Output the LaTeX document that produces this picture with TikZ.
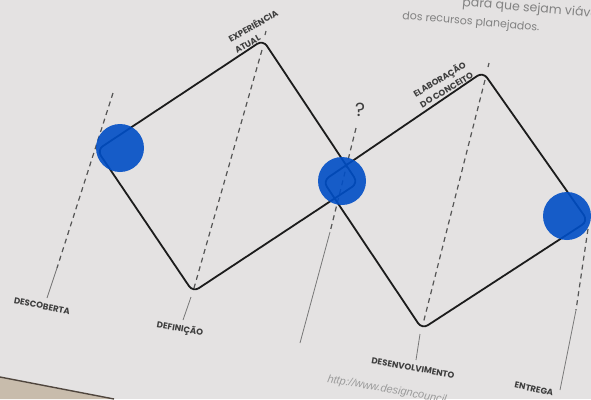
\documentclass[tikz,border=0pt]{standalone}
\usepackage{fontspec}
\newfontfamily\lab{Poppins}
\newfontfamily\urlf{Liberation Sans}
\definecolor{paper}{RGB}{228,226,226}
\definecolor{dotblue}{RGB}{0,78,198}
\definecolor{ink}{RGB}{28,28,28}
\definecolor{guide}{RGB}{85,85,85}
\definecolor{labelc}{RGB}{62,62,62}
\definecolor{bodyc}{RGB}{130,130,130}
\definecolor{curl}{RGB}{200,188,172}
\definecolor{curledge}{RGB}{80,70,62}
\begin{document}
\begin{tikzpicture}[x=1pt,y=-1pt,
  frame/.style={draw=ink, line width=1.8pt, rounded corners=7pt, line join=round},
  guidedash/.style={draw=guide, line width=1.2pt, dash pattern=on 5pt off 4pt},
  guidesolid/.style={draw=guide!80, line width=0.8pt},
  blob/.style={circle, fill=dotblue, fill opacity=0.9, minimum size=48pt, inner sep=0pt},
  lbl/.style={font=\lab\bfseries\fontsize{8.6}{12.5}\selectfont, text=labelc, inner sep=0pt},
  body/.style={font=\lab\fontsize{11}{13}\selectfont, text=bodyc, inner sep=0pt},
]
\useasboundingbox (0,0) rectangle (591,399);
\clip (0,0) rectangle (591,399);
\fill[paper] (0,0) rectangle (591,399);
% page curl
\coordinate (c1) at (0,377);
\coordinate (c2) at (114,399);
\fill[curl] (c1) -- (c2) -- (0,399) -- cycle;
\draw[curledge, line width=1.4pt] (c1) -- (c2);

% diamond corners
\coordinate (L1) at (97,150);
\coordinate (T1) at (263,40);
\coordinate (R1) at (358,183);
\coordinate (B1) at (193,292);
\coordinate (L2) at (323,181);
\coordinate (T2) at (483,72);
\coordinate (R2) at (588,221);
\coordinate (B2) at (422,329);

% guide line points
\coordinate (g1a) at (113,93);
\coordinate (g1b) at (57,268);
\coordinate (g1c) at (47,298);
\coordinate (g2a) at (262,50);
\coordinate (g2b) at (194,288);
\coordinate (g2c) at (191,297);
\coordinate (g2d) at (183,320);
\coordinate (g2t1) at (266,31);
\coordinate (g2t2) at (265,35);
\coordinate (g3a) at (356,128);
\coordinate (g3b) at (330,232);
\coordinate (g3c) at (300,343);
\coordinate (g4a) at (485,80);
\coordinate (g4b) at (423,324);
\coordinate (g4c) at (420,334);
\coordinate (g4d) at (416,360);
\coordinate (g4t1) at (489,63);
\coordinate (g4t2) at (488,67);
\coordinate (g5a) at (588,229);
\coordinate (g5b) at (576,310);
\coordinate (g5c) at (560,390);

% guides
\draw[guidedash] (g1a) -- (g1b);
\draw[guidesolid] (g1b) -- (g1c);
\draw[guidedash] (g2a) -- (g2b);
\draw[guidesolid] (g2c) -- (g2d);
\draw[guidedash] (g2t1) -- (g2t2);
\draw[guidedash] (g3a) -- (g3b);
\draw[guidesolid] (g3b) -- (g3c);
\draw[guidedash] (g4a) -- (g4b);
\draw[guidesolid] (g4c) -- (g4d);
\draw[guidedash] (g4t1) -- (g4t2);
\draw[guidedash] (g5a) -- (g5b);
\draw[guidesolid] (g5b) -- (g5c);

% diamonds
\draw[frame] (L1) -- (T1) -- (R1) -- (B1) -- cycle;
\draw[frame] (L2) -- (T2) -- (R2) -- (B2) -- cycle;

% blue dots
\node[blob] (d1) at (120,148) {};
\node[blob] (d2) at (342,181) {};
\node[blob] (d3) at (567,216) {};

% labels
\node[lbl, rotate=30, align=left] (exp) at (256,31) {EXPERIÊNCIA\\ATUAL};
\node[lbl, rotate=31, align=left] (ela) at (443,84) {ELABORAÇÃO\\DO CONCEITO};
\node[lbl, rotate=-11] (des) at (42,306) {DESCOBERTA};
\node[lbl, rotate=-10] (def) at (180,329) {DEFINIÇÃO};
\node[lbl, rotate=-10] (dev) at (413,368) {DESENVOLVIMENTO};
\node[lbl, rotate=-12] (ent) at (534,389) {ENTREGA};
\node[font=\lab\fontsize{19}{20}\selectfont, text=ink!85, inner sep=0pt] (q) at (360,110) {?};

% faded page text
\node[body, font=\lab\fontsize{12.5}{14}\selectfont, rotate=-5, anchor=base west] (t1) at (462,6) {para que sejam viáveis};
\node[body, rotate=-5, anchor=base west] (t2) at (402,19) {dos recursos planejados.};
\node[font=\urlf\itshape\fontsize{11}{12}\selectfont, text=bodyc!80, inner sep=0pt, rotate=-10, anchor=base west] (url) at (327,382) {http://www.designcouncil};
\end{tikzpicture}
\end{document}
